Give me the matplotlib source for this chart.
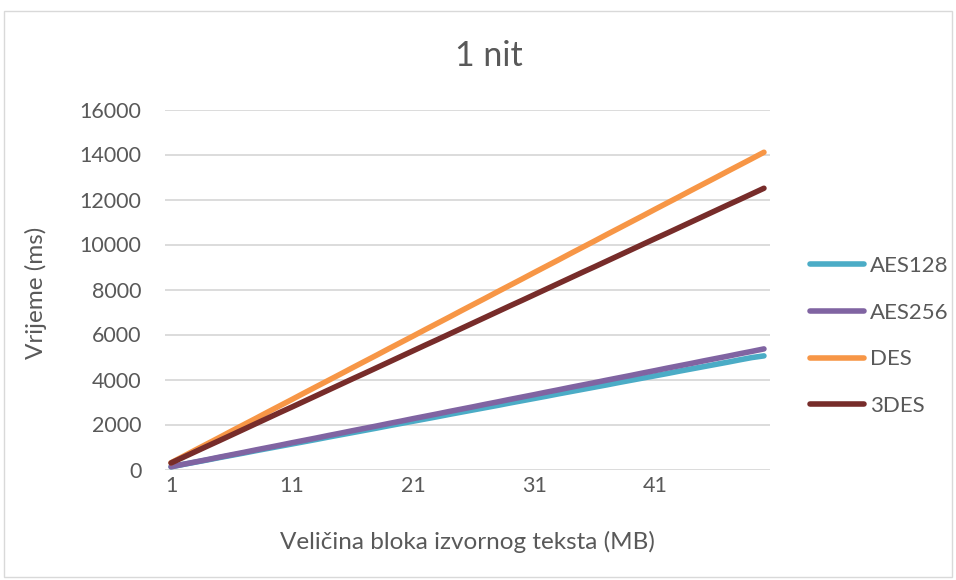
import matplotlib
matplotlib.use("Agg")
import matplotlib.pyplot as plt
from matplotlib.patches import Rectangle

plt.rcParams['font.family'] = ['Lato', 'DejaVu Sans']

sizes = list(range(1, 51))
aes128 = [120, 225, 325, 425, 530, 630, 730, 835, 935, 1035,
          1135, 1235, 1335, 1440, 1540, 1640, 1740, 1840, 1945, 2045,
          2145, 2245, 2345, 2450, 2550, 2650, 2750, 2850, 2955, 3055,
          3155, 3255, 3360, 3460, 3560, 3660, 3760, 3865, 3965, 4065,
          4165, 4265, 4370, 4470, 4570, 4670, 4770, 4875, 4975, 5050]
aes256 = [120, 230, 335, 440, 550, 655, 760, 870, 975, 1080,
          1190, 1295, 1400, 1510, 1615, 1725, 1830, 1935, 2045, 2150,
          2260, 2365, 2470, 2580, 2685, 2790, 2900, 3005, 3115, 3220,
          3325, 3435, 3540, 3650, 3755, 3860, 3970, 4075, 4180, 4290,
          4395, 4505, 4610, 4715, 4825, 4930, 5035, 5145, 5250, 5360]
des = [300, 580, 865, 1145, 1425, 1710, 1990, 2270, 2555, 2835,
       3115, 3400, 3680, 3960, 4240, 4525, 4805, 5085, 5370, 5650,
       5930, 6215, 6495, 6775, 7060, 7340, 7620, 7905, 8185, 8465,
       8750, 9030, 9310, 9595, 9875, 10155, 10440, 10720, 11000, 11280,
       11565, 11845, 12125, 12410, 12690, 12970, 13255, 13535, 13815, 14100]
des3 = [290, 540, 790, 1040, 1285, 1535, 1785, 2035, 2285, 2535,
        2780, 3030, 3280, 3530, 3780, 4030, 4275, 4525, 4775, 5025,
        5275, 5525, 5770, 6020, 6270, 6520, 6770, 7020, 7270, 7515,
        7765, 8015, 8265, 8515, 8765, 9010, 9260, 9510, 9760, 10010,
        10260, 10505, 10755, 11005, 11255, 11505, 11755, 12000, 12250, 12500]

series = [("AES128", aes128, "#4BACC6"),
          ("AES256", aes256, "#8064A2"),
          ("DES", des, "#F79646"),
          ("3DES", des3, "#772C2A")]

x_ticks = [1, 11, 21, 31, 41]
y_ticks = [0, 2000, 4000, 6000, 8000, 10000, 12000, 14000, 16000]

W, H = 956, 580
fig = plt.figure(figsize=(W / 100, H / 100), dpi=100)
ax = fig.add_axes([165 / W, 1 - 469.5 / H, (770 - 165) / W, 360 / H])

txt = "#595959"
for name, vals, col in series:
    ax.plot(sizes, vals, color=col, lw=4.0, solid_capstyle='round',
            solid_joinstyle='round', label=name)

ax.set_xlim(0.5, 50.5)
ax.set_ylim(0, 16000)
ax.set_xticks(x_ticks)
ax.set_xticklabels([str(v) for v in x_ticks])
ax.set_yticks(y_ticks)
ax.set_yticklabels([str(v) for v in y_ticks])
ax.tick_params(length=0, labelsize=15.5, colors=txt)
ax.tick_params(axis='y', pad=17)
ax.tick_params(axis='x', pad=5)
ax.grid(axis='y', color='#D9D9D9', lw=1.3)
ax.set_axisbelow(True)
for s in ax.spines.values():
    s.set_visible(False)

fig.text(36 / W, 1 - 293 / H, "Vrijeme (ms)", rotation=90, ha='center', va='center',
         fontsize=17.5, color=txt)
ax.set_xlabel("Veličina bloka izvornog teksta (MB)", fontsize=17.5, color=txt, labelpad=25)

fig.text(489 / W, 1 - 56 / H, "1 nit", ha='center', va='center', fontsize=24.5, color=txt)

leg = ax.legend(loc='center left', bbox_to_anchor=(790 / W, 1 - 336 / H),
                bbox_transform=fig.transFigure, frameon=False,
                fontsize=16, labelspacing=1.2, handlelength=2.45,
                handletextpad=0.25, labelcolor=txt)
for line in leg.get_lines():
    line.set_linewidth(4.0)
    line.set_solid_capstyle('round')

fig.patches.append(Rectangle((4 / W, 3 / H), (952 - 4) / W, (569 - 3) / H,
                             transform=fig.transFigure, fill=False,
                             edgecolor='#D9D9D9', lw=1.0))

fig.savefig("out.png", dpi=100, facecolor='white')
